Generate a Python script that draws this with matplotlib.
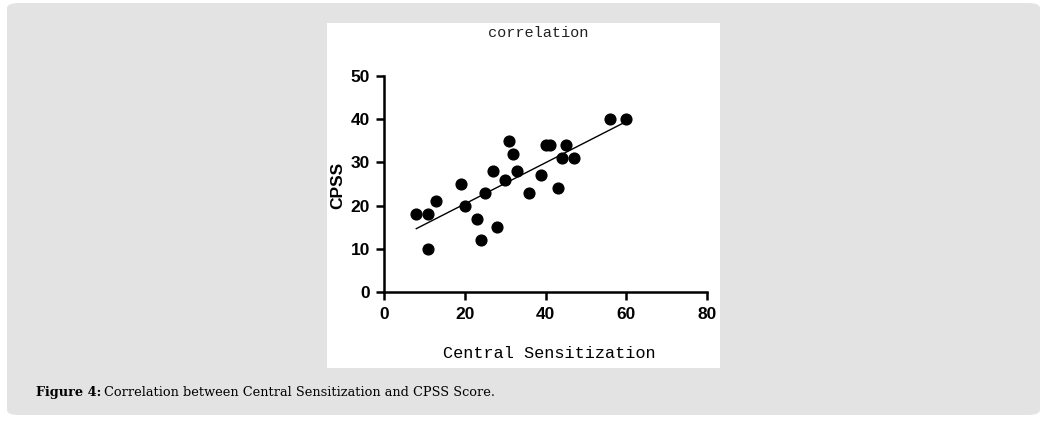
import numpy as np
import matplotlib.pyplot as plt
from matplotlib.patches import FancyBboxPatch, Rectangle

central_sens = [8, 11, 11, 13, 19, 20, 23, 24, 25, 27, 28, 30, 31, 32, 33,
                36, 39, 40, 41, 43, 44, 45, 47, 56, 60]
cpss = [18, 18, 10, 21, 25, 20, 17, 12, 23, 28, 15, 26, 35, 32, 28,
        23, 27, 34, 34, 24, 31, 34, 31, 40, 40]
x_ticks = [0, 20, 40, 60, 80]
y_ticks = [0, 10, 20, 30, 40, 50]

W, H = 1045, 422
fig = plt.figure(figsize=(W / 100, H / 100), dpi=100)
fig.patch.set_facecolor('white')

def fx(px):
    return px / W

def fy(py):
    return 1 - py / H

# grey panel and white picture box
panel = FancyBboxPatch((fx(7), fy(415)), fx(1040) - fx(7), fy(3) - fy(415),
                       boxstyle="round,pad=0,rounding_size=0.012",
                       transform=fig.transFigure, facecolor='#e3e3e3',
                       edgecolor='none', zorder=0)
fig.patches.append(panel)
box = Rectangle((fx(327), fy(368)), fx(720) - fx(327), fy(23) - fy(368),
                transform=fig.transFigure, facecolor='white', edgecolor='none',
                zorder=0.5)
fig.patches.append(box)

ax = fig.add_axes([fx(384), fy(292), fx(707) - fx(384), fy(76) - fy(292)])
ax.set_zorder(3)
ax.set_facecolor('none')
ax.scatter(central_sens, cpss, s=60, color='black', zorder=3, clip_on=False)

k, b = np.polyfit(central_sens, cpss, 1)
xs = np.array([min(central_sens), max(central_sens)])
ax.plot(xs, k * xs + b, color='black', lw=1.0)

ax.set_xlim(0, 80)
ax.set_ylim(0, 50)
ax.set_xticks(x_ticks)
ax.set_yticks(y_ticks)
for s in ['top', 'right']:
    ax.spines[s].set_visible(False)
for s in ['left', 'bottom']:
    ax.spines[s].set_linewidth(1.8)
ax.tick_params(length=6, width=1.8, direction='out')
ax.tick_params(axis='x', pad=5)
ax.tick_params(axis='y', pad=4)
for lab in ax.get_xticklabels() + ax.get_yticklabels():
    lab.set_fontfamily('Liberation Sans')
    lab.set_fontweight('bold')
    lab.set_fontsize(12.5)

fig.text(fx(538), fy(33), 'correlation', ha='center', va='center',
         family='Liberation Mono', fontsize=11, color='#222222', zorder=4)
fig.text(fx(549), fy(353), 'Central Sensitization', ha='center', va='center',
         family='Liberation Mono', fontsize=12.2, color='black', zorder=4)
fig.text(fx(338), fy(185), 'CPSS', ha='center', va='center', rotation=90,
         family='Liberation Sans', fontweight='bold', fontsize=12.5, zorder=4)

cap1 = fig.text(fx(36), fy(396), 'Figure 4:', ha='left', va='baseline',
                family='DejaVu Serif', fontweight='bold', fontsize=9.25, zorder=4)
fig.canvas.draw()
ext = cap1.get_window_extent()
fig.text(ext.x1 / W + fx(3), fy(396),
         'Correlation between Central Sensitization and CPSS Score.',
         ha='left', va='baseline', family='DejaVu Serif', fontsize=9.25, zorder=4)

fig.savefig('out.png', dpi=100)
